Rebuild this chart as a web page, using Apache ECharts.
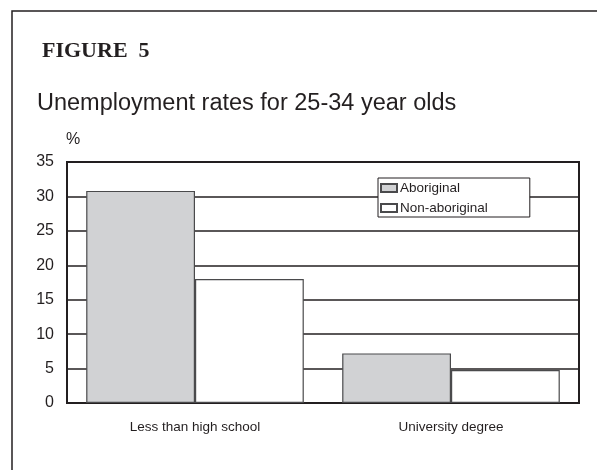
<!DOCTYPE html>
<html>
<head>
<meta charset="utf-8">
<script src="https://cdn.jsdelivr.net/npm/echarts@6/dist/echarts.min.js"></script>
<style>
html,body{margin:0;padding:0;background:#fff;}
#chart{width:597px;height:470px;}
</style>
</head>
<body>
<div id="chart"></div>
<script>
const categories = ['Less than high school', 'University degree'];
const aboriginal = [30.8, 7.2];
const nonAboriginal = [18, 4.8];
const yTicks = { min: 0, max: 35, interval: 5 };
const seriesNames = ['Aboriginal', 'Non-aboriginal'];

const ink = '#231f20';
const chart = echarts.init(document.getElementById('chart'), null, { renderer: 'canvas' });
chart.setOption({
  animation: false,
  backgroundColor: '#fff',
  graphic: [{
    type: 'rect', silent: true, z: -1,
    shape: { x: 12, y: 11, width: 700, height: 600 },
    style: { fill: null, stroke: ink, lineWidth: 1.5 }
  }],
  title: [
    { text: 'FIGURE  5', left: 42, top: 40, padding: 0,
      textStyle: { fontFamily: 'Liberation Serif', fontWeight: 'bold', fontSize: 22, color: ink } },
    { text: 'Unemployment rates for 25-34 year olds', left: 37, top: 92, padding: 0,
      textStyle: { fontFamily: 'Liberation Sans', fontWeight: 'normal', fontSize: 23.5, color: ink } }
  ],
  legend: {
    orient: 'vertical', left: 378, top: 178,
    data: seriesNames,
    backgroundColor: '#fff', borderColor: ink, borderWidth: 1,
    padding: [3, 42, 2, 2], itemGap: 6, itemWidth: 16, itemHeight: 8,
    icon: 'rect',
    textStyle: { fontFamily: 'Liberation Sans', fontSize: 13.5, color: ink, padding: [0, 0, 0, -2] },
    z: 10
  },
  grid: {
    left: 67, right: 18, top: 162, bottom: 67, containLabel: false,
    show: true, borderColor: ink, borderWidth: 2, backgroundColor: '#fff'
  },
  xAxis: {
    type: 'category', data: categories,
    axisLine: { show: true, lineStyle: { color: ink, width: 2 } },
    axisTick: { show: false },
    axisLabel: { fontFamily: 'Liberation Sans', fontSize: 13.5, color: ink, margin: 17 }
  },
  yAxis: {
    type: 'value', min: yTicks.min, max: yTicks.max, interval: yTicks.interval,
    name: '%', nameLocation: 'end', nameGap: 14,
    nameTextStyle: { fontFamily: 'Liberation Sans', fontSize: 16, color: ink, padding: [0, 0, 0, 12] },
    axisLine: { show: true, lineStyle: { color: ink, width: 2 } },
    axisTick: { show: false },
    axisLabel: { fontFamily: 'Liberation Sans', fontSize: 16, color: ink, margin: 13 },
    splitLine: { show: true, lineStyle: { color: ink, width: 1.5 } }
  },
  series: [
    { name: seriesNames[0], type: 'bar', data: aboriginal, barGap: '0%', barCategoryGap: '15%',
      itemStyle: { color: '#d1d2d4', borderColor: '#4a4a4c', borderWidth: 1.2 } },
    { name: seriesNames[1], type: 'bar', data: nonAboriginal, barGap: '0%', barCategoryGap: '15%',
      itemStyle: { color: '#ffffff', borderColor: '#4a4a4c', borderWidth: 1.2 } }
  ]
});
</script>
</body>
</html>
